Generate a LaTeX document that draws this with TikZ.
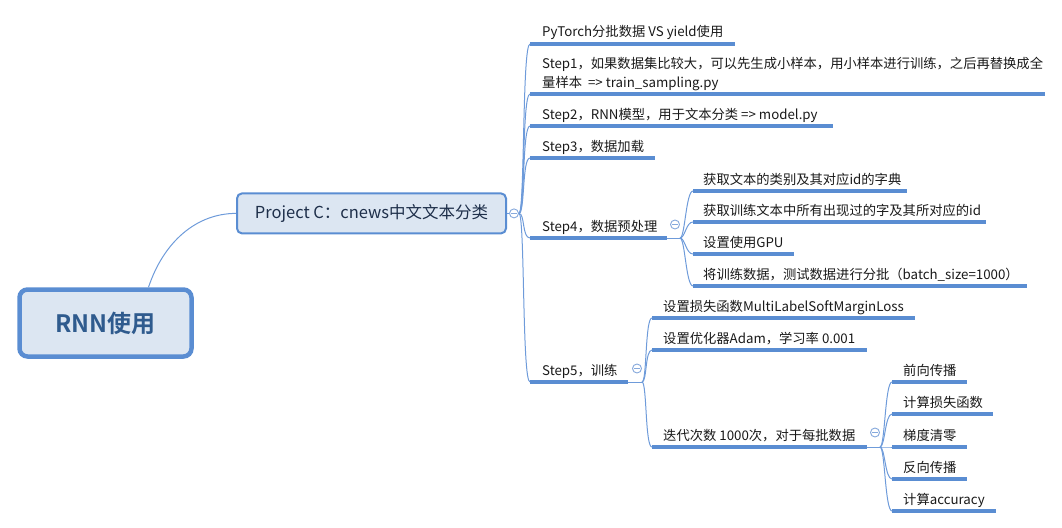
\documentclass[tikz,border=0pt]{standalone}
\usepackage{fontspec}
\setmainfont{Noto Sans CJK SC}[BoldFont=* Bold]
\definecolor{lineblue}{HTML}{5A8DD2}
\definecolor{thinblue}{HTML}{6E9BDA}
\definecolor{boxfill}{HTML}{DCE6F2}
\definecolor{roottext}{HTML}{2F5B8E}
\definecolor{projtext}{HTML}{1E2F4A}
\definecolor{circ}{HTML}{86A9DC}
\begin{document}
\begin{tikzpicture}[x=1pt,y=-1pt,
  uline/.style={draw=lineblue, line width=3.4pt},
  conn/.style={draw=thinblue, line width=1pt},
  txt/.style={anchor=base west, inner sep=0pt, font=\fontsize{13.3}{19}\selectfont, text=black!90, align=left},
  collapse/.style={circle, draw=circ, fill=white, line width=0.9pt, minimum size=9pt, inner sep=0pt,
    path picture={\draw[circ, line width=0.9pt] ([xshift=-2.6pt]path picture bounding box.center) -- ([xshift=2.6pt]path picture bounding box.center);}},
  rootbox/.style={draw=lineblue, fill=boxfill, line width=4.5pt, rounded corners=8pt, minimum width=172pt, minimum height=67pt, inner sep=0pt, font=\fontsize{24}{28}\selectfont\bfseries, text=roottext},
  projbox/.style={draw=lineblue, fill=boxfill, line width=2pt, rounded corners=5pt, minimum width=269pt, minimum height=40pt, inner sep=0pt, font=\fontsize{16.5}{20}\selectfont, text=projtext},
  branch/.style={conn}
]
\useasboundingbox (0,0) rectangle (1062,527);

% root and first level
\node[rootbox] (root) at (105.5,323) {RNN使用};
\node[projbox] (proj) at (371.5,213.4) {Project C：cnews中文文本分类};
\draw[conn] ([xshift=43pt]root.north) .. controls +(15,-45) and +(-40,0) .. (proj.west);
\node[collapse] (pc) at (514,213.4) {};
\draw[conn] (proj.east) -- (pc.west);
\coordinate (pj) at (pc.east);

% main children
\coordinate (a1s) at (530,44);  \coordinate (a1e) at (735,44);
\coordinate (a2s) at (530,94);  \coordinate (a2e) at (1045,94);
\coordinate (a3s) at (530,126); \coordinate (a3e) at (833,126);
\coordinate (a4s) at (530,158); \coordinate (a4e) at (655,158);
\coordinate (a5s) at (530,238); \coordinate (a5e) at (667,238);
\coordinate (a6s) at (530,382); \coordinate (a6e) at (628,382);
\foreach \i in {1,...,6} {
  \draw[branch] (pj) .. controls +(6,0) and +(-8,0) .. (a\i s);
  \draw[uline] (a\i s) -- (a\i e);
}
\node[txt] (t1) at (542,37) {PyTorch分批数据 VS yield使用};
\node[txt] (t2) at (542,87) {Step1，如果数据集比较大，可以先生成小样本，用小样本进行训练，之后再替换成全\\量样本\ \ => train\_sampling.py};
\node[txt] (t3) at (542,119) {Step2，RNN模型，用于文本分类 => model.py};
\node[txt] (t4) at (542,151) {Step3，数据加载};
\node[txt] (t5) at (542,231) {Step4，数据预处理};
\node[txt] (t6) at (542,375) {Step5，训练};

% Step4 children
\coordinate (j4) at (680,238);
\draw[conn] (a5e) -- (j4);
\node[collapse] (c4) at (675,224.5) {};
\coordinate (b1s) at (693,191); \coordinate (b1e) at (907,191);
\coordinate (b2s) at (693,222); \coordinate (b2e) at (986,222);
\coordinate (b3s) at (693,254); \coordinate (b3e) at (794,254);
\coordinate (b4s) at (693,286); \coordinate (b4e) at (1027,286);
\foreach \i in {1,...,4} {
  \draw[branch] (j4) .. controls +(5,0) and +(-7,0) .. (b\i s);
  \draw[uline] (b\i s) -- (b\i e);
}
\node[txt] (u1) at (703,184) {获取文本的类别及其对应id的字典};
\node[txt] (u2) at (703,215) {获取训练文本中所有出现过的字及其所对应的id};
\node[txt] (u3) at (703,247) {设置使用GPU};
\node[txt] (u4) at (703,279) {将训练数据，测试数据进行分批（batch\_size=1000）};

% Step5 children
\coordinate (j5) at (642,382);
\draw[conn] (a6e) -- (j5);
\node[collapse] (c5) at (637,368.5) {};
\coordinate (d1s) at (652,318); \coordinate (d1e) at (915,318);
\coordinate (d2s) at (652,350); \coordinate (d2e) at (867,350);
\coordinate (d3s) at (652,447); \coordinate (d3e) at (867,447);
\foreach \i in {1,...,3} {
  \draw[branch] (j5) .. controls +(5,0) and +(-7,0) .. (d\i s);
  \draw[uline] (d\i s) -- (d\i e);
}
\node[txt] (v1) at (663,311) {设置损失函数MultiLabelSoftMarginLoss};
\node[txt] (v2) at (663,343) {设置优化器Adam，学习率 0.001};
\node[txt] (v3) at (663,440) {迭代次数 1000次，对于每批数据};

% iteration children
\coordinate (j6) at (880,447);
\draw[conn] (d3e) -- (j6);
\node[collapse] (c6) at (875,432.5) {};
\coordinate (e1s) at (892,382); \coordinate (e1e) at (967,382);
\coordinate (e2s) at (892,414); \coordinate (e2e) at (993,414);
\coordinate (e3s) at (892,447); \coordinate (e3e) at (967,447);
\coordinate (e4s) at (892,479); \coordinate (e4e) at (967,479);
\coordinate (e5s) at (892,511); \coordinate (e5e) at (996,511);
\foreach \i in {1,...,5} {
  \draw[branch] (j6) .. controls +(5,0) and +(-7,0) .. (e\i s);
  \draw[uline] (e\i s) -- (e\i e);
}
\node[txt] (w1) at (903,375) {前向传播};
\node[txt] (w2) at (903,407) {计算损失函数};
\node[txt] (w3) at (903,440) {梯度清零};
\node[txt] (w4) at (903,472) {反向传播};
\node[txt] (w5) at (903,504) {计算accuracy};
\end{tikzpicture}
\end{document}
